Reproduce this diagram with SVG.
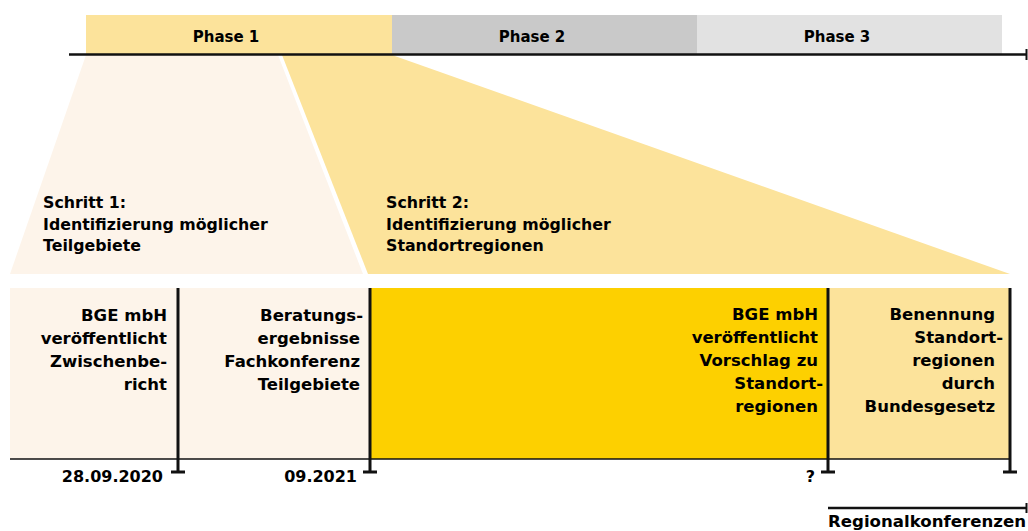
<svg xmlns="http://www.w3.org/2000/svg" width="1028" height="531" viewBox="0 0 1028 531">
<style>
text{font-family:"DejaVu Sans","Liberation Sans",sans-serif;font-weight:bold;fill:#000;}
.ph{font-size:15px;text-anchor:middle;}
.st{font-size:15.8px;}
.bx{font-size:16.5px;text-anchor:end;}
.dt{font-size:16px;text-anchor:end;}
.ln{stroke:#111;fill:none;}
</style>
<rect width="1028" height="531" fill="#fff"/>
<g id="phases">
<g id="phase1"><rect x="86" y="15" width="306" height="39" fill="#fce39b"/><text class="ph" x="226" y="42">Phase 1</text></g>
<g id="phase2"><rect x="392" y="15" width="305" height="39" fill="#c9c9c9"/><text class="ph" x="532" y="42">Phase 2</text></g>
<g id="phase3"><rect x="697" y="15" width="305" height="39" fill="#e2e2e2"/><text class="ph" x="837" y="42">Phase 3</text></g>
</g>
<g id="schritt1"><polygon points="86,55 278,55 363,274 10,274" fill="#fdf4ea"/>
<text class="st" x="43" y="208">Schritt 1:</text>
<text class="st" x="43" y="230">Identifizierung möglicher</text>
<text class="st" x="43" y="251">Teilgebiete</text></g>
<g id="schritt2"><polygon points="282,55 392,55 1010,274 368,274" fill="#fce39b"/>
<text class="st" x="386" y="208">Schritt 2:</text>
<text class="st" x="386" y="230">Identifizierung möglicher</text>
<text class="st" x="386" y="251">Standortregionen</text></g>
<g id="box1"><rect x="10" y="288" width="168" height="171" fill="#fdf4ea"/>
<text class="bx" x="167" y="321">BGE mbH</text><text class="bx" x="167" y="344">veröffentlicht</text><text class="bx" x="167" y="367">Zwischenbe-</text><text class="bx" x="167" y="390">richt</text></g>
<g id="box2"><rect x="178" y="288" width="192" height="171" fill="#fdf4ea"/>
<text class="bx" x="363" y="321">Beratungs-</text><text class="bx" x="360" y="344">ergebnisse</text><text class="bx" x="360" y="367">Fachkonferenz</text><text class="bx" x="360" y="390">Teilgebiete</text></g>
<g id="box3"><rect x="370" y="288" width="458" height="171" fill="#fdd000"/>
<text class="bx" x="818" y="320">BGE mbH</text><text class="bx" x="818" y="343">veröffentlicht</text><text class="bx" x="818" y="366">Vorschlag zu</text><text class="bx" x="823" y="389">Standort-</text><text class="bx" x="818" y="412">regionen</text></g>
<g id="box4"><rect x="828" y="288" width="182" height="171" fill="#fce39b"/>
<text class="bx" x="995" y="320">Benennung</text><text class="bx" x="1003" y="343">Standort-</text><text class="bx" x="995" y="366">regionen</text><text class="bx" x="995" y="389">durch</text><text class="bx" x="995" y="412">Bundesgesetz</text></g>
<g id="dates">
<text class="dt" x="163" y="482">28.09.2020</text>
<text class="dt" x="357" y="482">09.2021</text>
<text class="dt" x="815" y="482">?</text>
</g>
<g id="regionalkonferenzen"><text style="font-size:16.6px" x="828" y="527">Regionalkonferenzen</text></g>
<g id="connectors">
<line class="ln" x1="69" y1="54.5" x2="1027" y2="54.5" stroke-width="2.5"/>
<line class="ln" x1="1026.5" y1="49" x2="1026.5" y2="60" stroke-width="2"/>
<line class="ln" x1="10" y1="459" x2="1010" y2="459" stroke-width="1.5"/>
<path class="ln" stroke-width="3" d="M178,288V472M171,472H185M370,288V472M363,472H377M828,288V472M821,472H835M1010,288V472M1003,472H1017"/>
<line class="ln" x1="828" y1="508" x2="1027" y2="508" stroke-width="2.5"/>
<line class="ln" x1="1026.5" y1="503" x2="1026.5" y2="513" stroke-width="2"/>
</g>
</svg>
